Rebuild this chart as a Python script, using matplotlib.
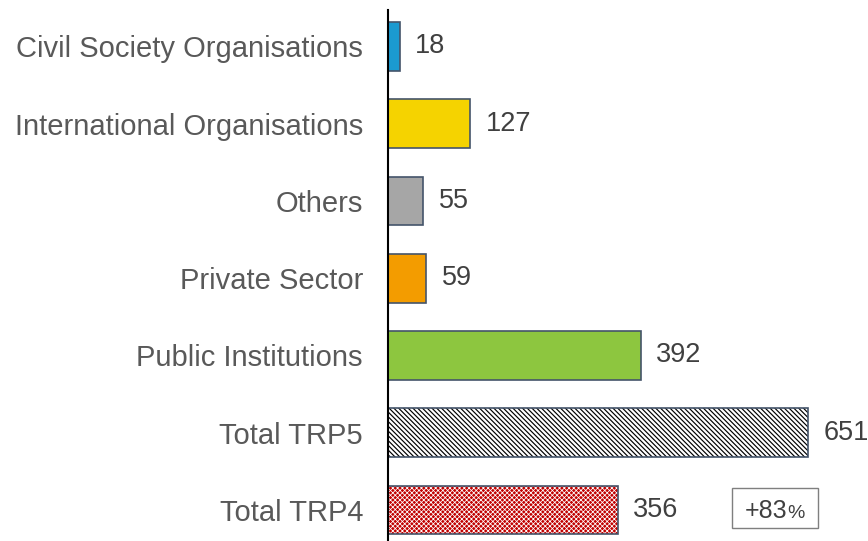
import matplotlib.pyplot as plt
import matplotlib.colors as mcolors
from matplotlib.patches import Rectangle

plt.rcParams['font.family'] = ['Liberation Sans', 'DejaVu Sans']
plt.rcParams['hatch.linewidth'] = 1.0

categories = ["Total TRP4", "Total TRP5", "Public Institutions", "Private Sector",
              "Others", "International Organisations", "Civil Society Organisations"]
values = [356, 651, 392, 59, 55, 127, 18]
growth_label = "+83"

colors = ["#C00000", "white", "#8DC63F", "#F39C00", "#A6A6A6", "#F5D300", "#1B9AD0"]
hatches = ["xxxxxxx", "\\\\\\\\\\\\\\", None, None, None, None, None]
hatch_colors = ["white", "black", None, None, None, None, None]
hatch_widths = [0.55, 0.85, None, None, None, None, None]

fig = plt.figure(figsize=(8.68, 5.41), dpi=100)
ax = fig.add_axes([388 / 868, 0.0, 1 - 388 / 868 - 0.003, 1 - 10 / 541])

ypos = list(range(len(categories)))
for y, v, c, h, hc, hw in zip(ypos, values, colors, hatches, hatch_colors, hatch_widths):
    if hw:
        plt.rcParams['hatch.linewidth'] = hw
    bar = ax.barh(y, v, height=0.63, color=c, edgecolor="#44546A", linewidth=1.2, zorder=2)[0]
    if h:
        bar.set_hatch(h)
        bar._hatch_color = mcolors.to_rgba(hc)
        if hasattr(bar, "set_hatch_linewidth"):
            bar.set_hatch_linewidth(hw)
    ax.text(v + 24, y, str(v), va="center", ha="left", fontsize=19.5, color="#404040")

ax.set_xlim(0, 740)
ax.set_ylim(-0.40, 6.47)
ax.set_yticks(ypos)
ax.set_yticklabels(categories, fontsize=21, color="#595959")
ax.tick_params(axis="y", length=0, pad=18)
ax.set_xticks([])
for s in ["top", "right", "bottom"]:
    ax.spines[s].set_visible(False)
ax.spines["left"].set_linewidth(1.5)
ax.spines["left"].set_zorder(3)

# growth box next to TRP4
ax.add_patch(Rectangle((533, -0.233), 134, 0.518, fill=False, edgecolor="#7F7F7F",
                       linewidth=1.0, zorder=2))
ax.text(619, -0.10, growth_label, ha="right", va="baseline", fontsize=18, color="#404040")
ax.text(619, -0.10, "%", ha="left", va="baseline", fontsize=14, color="#404040")

fig.savefig("out.png", dpi=100)
